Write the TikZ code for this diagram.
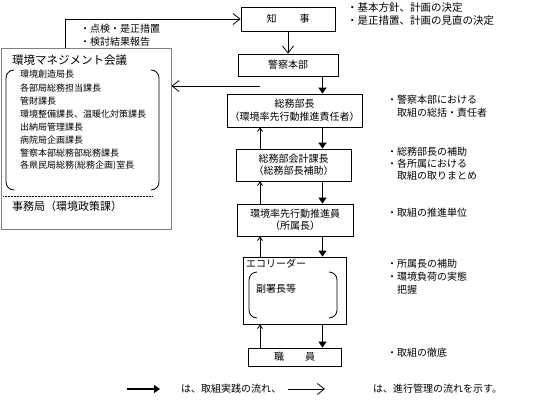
\documentclass[tikz,border=0pt]{standalone}
\usepackage{fontspec}
\setmainfont{Noto Sans CJK JP}
\usetikzlibrary{arrows.meta}

\begin{document}
\begin{tikzpicture}[x=1pt,y=-1pt,
    box/.style={draw,line width=0.8pt,inner sep=0pt,align=center,font=\fontsize{10}{12.5}\selectfont},
    txt/.style={anchor=west,inner sep=0pt,font=\fontsize{10}{12}\selectfont},
    mem/.style={anchor=west,inner sep=0pt,font=\fontsize{9}{11}\selectfont},
    act/.style={line width=1.8pt,-{Triangle[length=6pt,width=8pt]}},
    ctl/.style={line width=0.8pt,-{Straight Barb[length=7pt,width=11pt]}},
    back/.style={line width=0.8pt,-{Straight Barb[length=3.5pt,width=5pt]}}]
\useasboundingbox (0,0) rectangle (548,405);
% main chain
\node[box,minimum width=94pt,minimum height=24pt] (chiji) at (288,19) {知\hspace{23pt}事};
\node[box,minimum width=100pt,minimum height=22pt] (hq) at (288,65) {警察本部};
\node[box,minimum width=135pt,minimum height=33pt] (somu) at (294.5,110.5) {総務部長\\（環境率先行動推進責任者）};
\node[box,minimum width=115pt,minimum height=32pt] (kaikei) at (293.5,165) {総務部会計課長\\（総務部長補助）};
\node[box,minimum width=116pt,minimum height=32pt] (suishin) at (295,220) {環境率先行動推進員\\（所属長）};
\node[box,minimum width=103pt,minimum height=67pt] (eco) at (294.5,290.5) {};
\node[txt] (ecot) at (246,264) {エコリーダー};
\node[txt] (fuku) at (256,289) {副署長等};
\node[box,minimum width=93pt,minimum height=18pt] (shokuin) at (294.5,357) {職\hspace{21pt}員};
\draw[line width=0.8pt] (257,272) to[out=180,in=90] (249,280) -- (249,310) to[out=-90,in=180] (257,318);
\draw[line width=0.8pt] (329,272) to[out=0,in=90] (337,280) -- (337,310) to[out=-90,in=0] (329,318);
% council
\node[draw=gray,line width=1pt,minimum width=170pt,minimum height=181pt,inner sep=0pt] (council) at (86,138.5) {};
\node[txt,font=\fontsize{11.5}{13}\selectfont] (ctitle) at (12,60) {環境マネジメント会議};
\foreach \y/\t [count=\i] in {74/環境創造局長,88/各部局総務担当課長,101/管財課長,114/環境整備課長、温暖化対策課長,
    127/出納局管理課長,140/病院局企画課長,153/警察本部総務部総務課長,166/各県民局総務(総務企画)室長}
  \node[mem] (m\i) at (20,\y) {\t};
\draw[line width=0.8pt] (14,70) to[out=180,in=90] (6,78) -- (6,182) to[out=-90,in=180] (14,190);
\draw[line width=0.8pt] (151,70) to[out=0,in=90] (159,78) -- (159,182) to[out=-90,in=0] (151,190);
\draw[line width=0.6pt,dash pattern=on 0.6pt off 0.9pt] (3,196) -- (152,196);
\node[txt,font=\fontsize{11}{13}\selectfont] (jimu) at (12,206) {事務局（環境政策課）};
% connectors
\coordinate (dn) at (322.5,0);
\coordinate (up) at (260,0);
\coordinate (rep) at (260,86);
\draw[ctl] ([xshift=65pt]council.north west) |- (chiji.west);
\draw[ctl] (chiji) -- (hq);
\draw[ctl] (rep) -- (rep -| council.east);
\draw[act] (hq.south -| dn) -- (somu.north -| dn);
\draw[act] (somu.south -| dn) -- (kaikei.north -| dn);
\draw[act] (kaikei.south -| dn) -- (suishin.north -| dn);
\draw[act] (suishin.south -| dn) -- (eco.north -| dn);
\draw[act] (eco.south -| dn) -- (shokuin.north -| dn);
\draw[back] (kaikei.north -| up) -- (somu.south -| up);
\draw[back] (suishin.north -| up) -- (kaikei.south -| up);
\draw[back] (eco.north -| up) -- (suishin.south -| up);
\draw[back] (shokuin.north -| up) -- (eco.south -| up);
% notes
\node[txt] (n1) at (80,29) {・点検・是正措置};
\node[txt] (n2) at (80,42) {・検討結果報告};
\node[txt,font=\fontsize{10.5}{12}\selectfont] (n3) at (347,8) {・基本方針、計画の決定};
\node[txt,font=\fontsize{10.5}{12}\selectfont] (n4) at (347,21) {・是正措置、計画の見直の決定};
\node[txt] (n5) at (387,100) {・警察本部における};
\node[txt] (n6) at (397,113) {取組の総括・責任者};
\node[txt] (n7) at (387,152) {・総務部長の補助};
\node[txt] (n8) at (387,164) {・各所属における};
\node[txt] (n9) at (397,176) {取組の取りまとめ};
\node[txt] (n10) at (387,213) {・取組の推進単位};
\node[txt] (n11) at (387,264) {・所属長の補助};
\node[txt] (n12) at (387,277) {・環境負荷の実態};
\node[txt] (n13) at (397,290) {把握};
\node[txt] (n14) at (387,353) {・取組の徹底};
% legend
\coordinate (la) at (127,389);
\coordinate (lb) at (288,389);
\draw[act] (la) -- ++(33,0);
\draw[ctl] (lb) -- ++(37,0);
\node[txt] (l1) at (181,389) {は、取組実践の流れ、};
\node[txt] (l2) at (373,389) {は、進行管理の流れを示す。};
\end{tikzpicture}
\end{document}
